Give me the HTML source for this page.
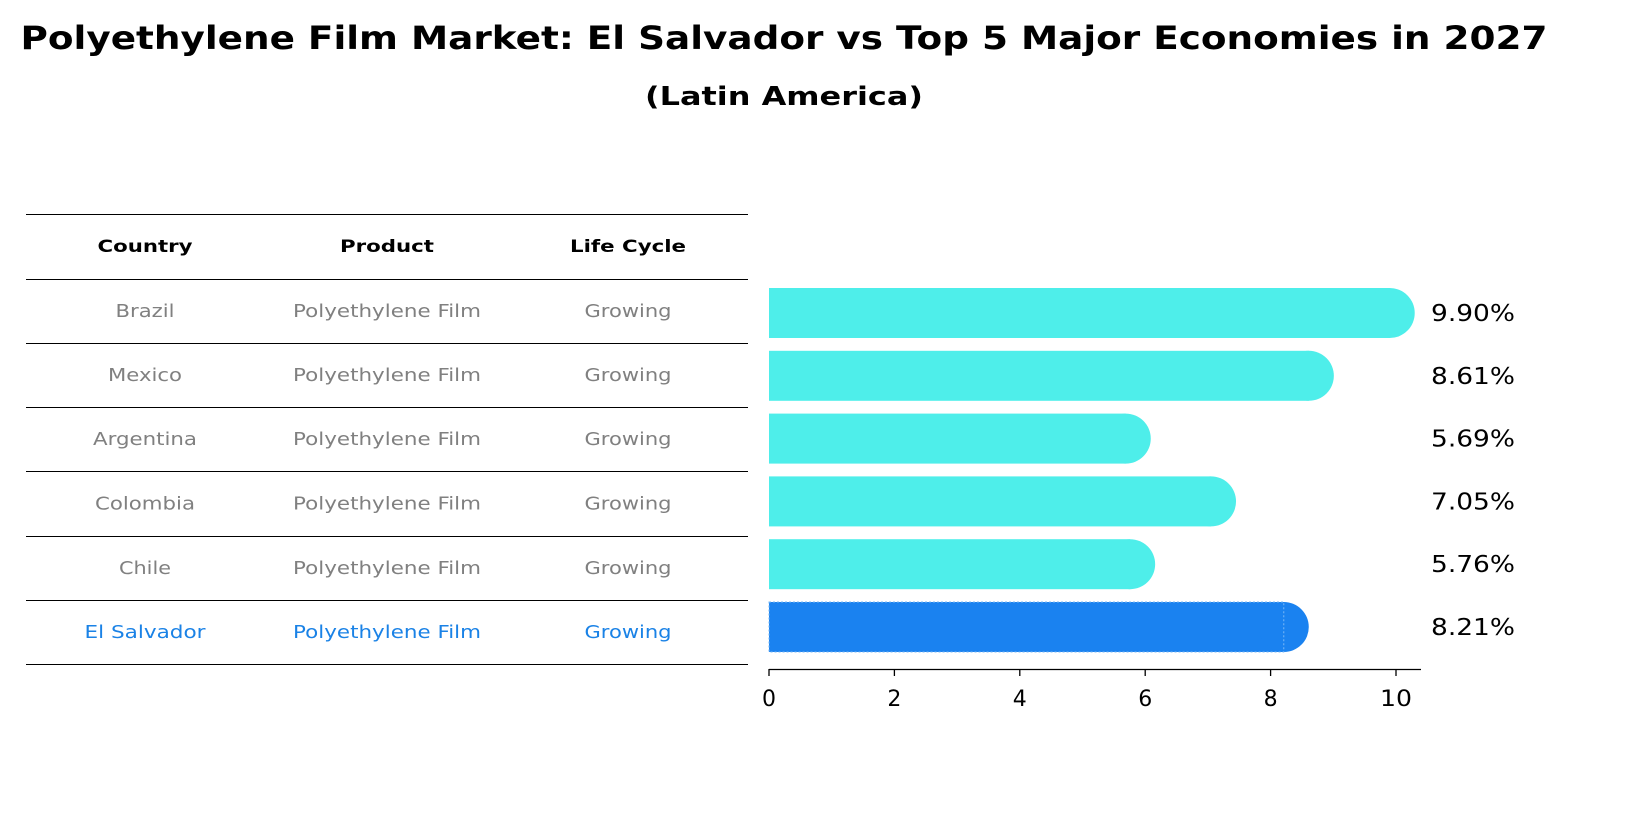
<!DOCTYPE html>
<html><head><meta charset="utf-8"><style>
body{margin:0;background:#fff;font-family:"DejaVu Sans","Liberation Sans",sans-serif;}
#wrap{position:relative;width:1627px;height:823px;overflow:hidden;}
</style></head><body>
<div id="wrap">
<svg id="svg" width="1627" height="823" xmlns="http://www.w3.org/2000/svg">
<text x="784" y="49" text-anchor="middle" font-size="32" font-weight="bold" textLength="1527" lengthAdjust="spacingAndGlyphs" font-family="DejaVu Sans, Liberation Sans, sans-serif">Polyethylene Film Market: El Salvador vs Top 5 Major Economies in 2027</text>
<text x="784" y="105" text-anchor="middle" font-size="26" font-weight="bold" textLength="278" lengthAdjust="spacingAndGlyphs" font-family="DejaVu Sans, Liberation Sans, sans-serif">(Latin America)</text>
<g id="table"></g>
<g id="bars"></g>
<g id="axis"></g>
</svg>
</div>
<script>
const countries=["Brazil","Mexico","Argentina","Colombia","Chile","El Salvador"];
const products=["Polyethylene Film","Polyethylene Film","Polyethylene Film","Polyethylene Film","Polyethylene Film","Polyethylene Film"];
const lifecycle=["Growing","Growing","Growing","Growing","Growing","Growing"];
const values=[9.90,8.61,5.69,7.05,5.76,8.21];
const valueLabels=["9.90%","8.61%","5.69%","7.05%","5.76%","8.21%"];
const ticks=[0,2,4,6,8,10];

const NS="http://www.w3.org/2000/svg";
const FF="DejaVu Sans, Liberation Sans, sans-serif";
const countryW={"Brazil":59,"Mexico":74,"Argentina":104,"Colombia":100,"Chile":52,"El Salvador":121,"Polyethylene Film":188,"Growing":87,"Country":95,"Product":94,"Life Cycle":116};
function mk(tag,attrs,parent){const e=document.createElementNS(NS,tag);for(const k in attrs)e.setAttribute(k,attrs[k]);parent.appendChild(e);return e;}
const x=v=>769+v*62.7;
const rowY=i=>313+i*62.8;
const table=document.getElementById('table'),bars=document.getElementById('bars'),axis=document.getElementById('axis');
const lines=[214,279,343,407,471,536,600,664];
lines.forEach(ly=>{const l=mk('line',{x1:26,x2:748,y1:ly+0.5,y2:ly+0.5,stroke:'#000','stroke-width':1},table);

});
const colX=[145,387,628];
["Country","Product","Life Cycle"].forEach((h,j)=>{const t=mk('text',{x:colX[j],y:252,'text-anchor':'middle','font-size':17,'font-weight':'bold','font-family':FF,textLength:countryW[h],lengthAdjust:'spacingAndGlyphs'},table);t.textContent=h;

});
countries.forEach((c,i)=>{
  const cy=(lines[i+1]+lines[i+2])/2+6;
  const col=i===countries.length-1?'#1a82e6':'#808080';
  [c,products[i],lifecycle[i]].forEach((s,j)=>{const t=mk('text',{x:colX[j],y:cy,'text-anchor':'middle','font-size':18,fill:col,'font-family':FF},table);
  if(countryW[s]){t.setAttribute('textLength',countryW[s]);t.setAttribute('lengthAdjust','spacingAndGlyphs');}
  t.textContent=s;
  
  });
  const yc=rowY(i),fill=i===countries.length-1?'#1a82f0':'#4eeeea';
  const g=mk('g',{},bars);
  
  
  mk('rect',{x:x(0),y:yc-25,width:x(values[i])-x(0),height:50,fill:fill},g);
  mk('circle',{cx:x(values[i]),cy:yc,r:25,fill:fill},g);
  if(i===countries.length-1){mk('rect',{x:x(0),y:yc-25,width:x(values[i])-x(0),height:50,fill:'none',stroke:'#7ab8f5','stroke-dasharray':'2,2','stroke-width':1},g);}
  const t=mk('text',{x:1431,y:yc+8,'font-size':23,'font-family':FF,textLength:84,lengthAdjust:'spacingAndGlyphs'},bars);t.textContent=valueLabels[i];
  
  
});
mk('line',{x1:769,x2:1421,y1:669.5,y2:669.5,stroke:'#000','stroke-width':1.3},axis);
ticks.forEach(v=>{mk('line',{x1:x(v),x2:x(v),y1:669,y2:676,stroke:'#000','stroke-width':1.3},axis);
const t=mk('text',{x:x(v),y:706,'text-anchor':'middle','font-size':22,'font-family':FF,textLength:String(v).length>1?32:14,lengthAdjust:'spacingAndGlyphs'},axis);t.textContent=v;

});
</script>
</body></html>
